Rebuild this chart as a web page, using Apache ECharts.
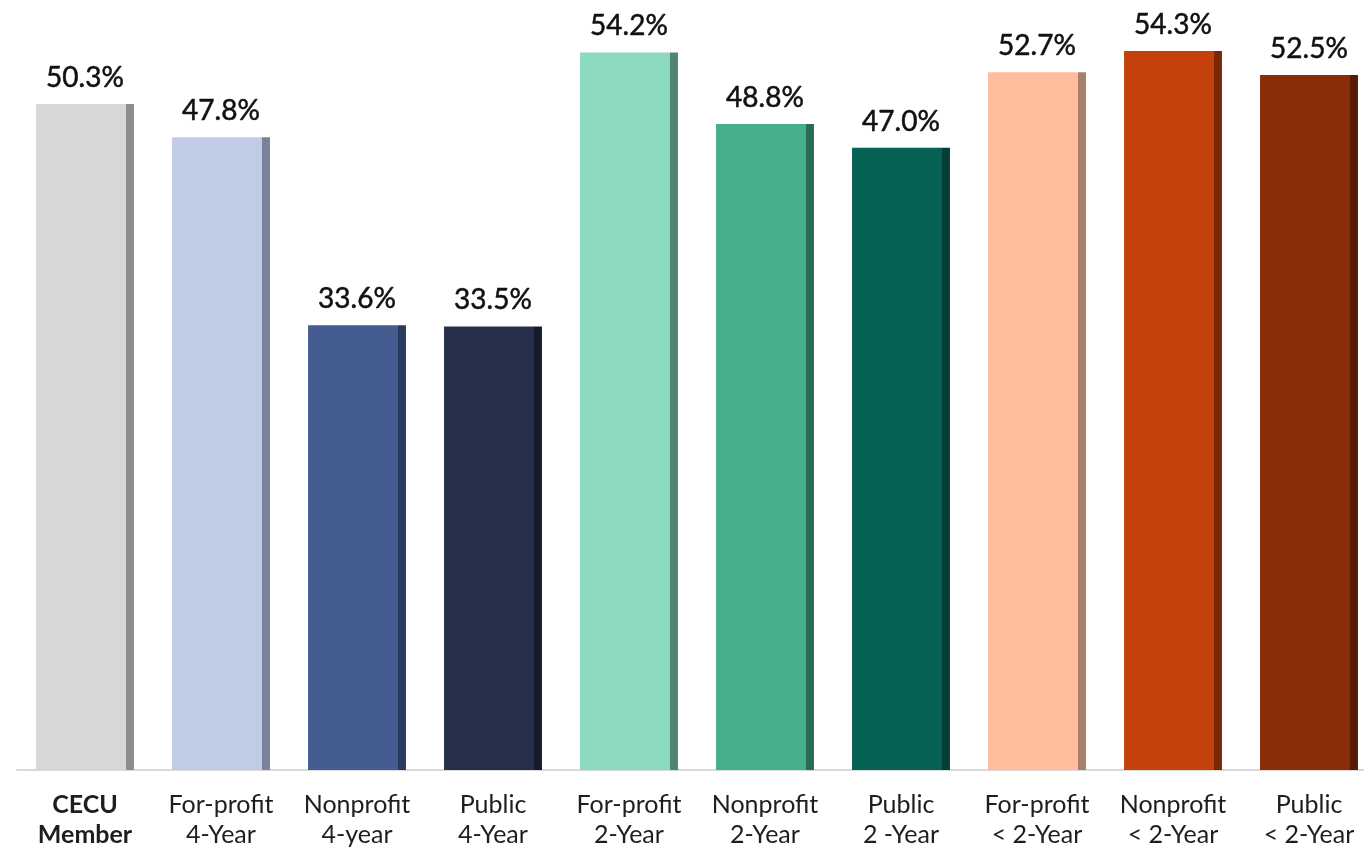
<!DOCTYPE html>
<html><head><meta charset="utf-8">
<script src="https://cdn.jsdelivr.net/npm/echarts@6/dist/echarts.min.js"></script>
<style>html,body{margin:0;padding:0;background:#fff;overflow:hidden}#c{width:1380px;height:850px}</style>
</head><body><div id="c"></div>
<script>
const categories = ["CECU\nMember","For-profit\n4-Year","Nonprofit\n4-year","Public\n4-Year","For-profit\n2-Year","Nonprofit\n2-Year","Public\n2 -Year","For-profit\n< 2-Year","Nonprofit\n< 2-Year","Public\n< 2-Year"];
const values = [50.3, 47.8, 33.6, 33.5, 54.2, 48.8, 47.0, 52.7, 54.3, 52.5];
const mainColors = ["#D9D6D6","#C0CCE6","#455C91","#263049","#8BD9BE","#46AE8A","#056153","#FFBD9D","#C4400C","#872D07"];
const edgeColors = ["#8C8C8C","#7A8299","#2C3A5E","#161C2C","#508570","#2A6A52","#033D33","#A8806A","#7A2806","#551B03"];

const chart = echarts.init(document.getElementById('c'));
chart.setOption({
  animation: false,
  grid: {left: 17, width: 1360, top: 41.8, bottom: 80, containLabel: false},
  xAxis: {
    type: 'category', data: categories,
    axisLine: {lineStyle: {color: '#D9D9D9', width: 2}},
    axisTick: {show: false},
    axisLabel: {
      interval: 0, margin: 20, fontFamily: 'Lato', fontSize: 25, color: '#1e1e1e', lineHeight: 30,
      formatter: function (v, i) { return i === 0 ? '{b|' + v.replace('\n', '}\n{b|') + '}' : v; },
      rich: {b: {fontFamily: 'Lato', fontSize: 25, fontWeight: 'bold', color: '#1e1e1e', lineHeight: 30}}
    }
  },
  yAxis: {type: 'value', min: 0, max: 55, show: false, splitLine: {show: false}},
  series: [{
    type: 'bar', barCategoryGap: '28%',
    data: values.map((v, i) => ({
      value: v,
      itemStyle: {
        color: new echarts.graphic.LinearGradient(0, 0, 1, 0, [
          {offset: 0, color: mainColors[i]},
          {offset: 0.918, color: mainColors[i]},
          {offset: 0.918, color: edgeColors[i]},
          {offset: 1, color: edgeColors[i]}
        ])
      }
    })),
    label: {
      show: true, position: 'top', distance: 12,
      fontFamily: 'Lato', fontSize: 28, fontWeight: 'normal', color: '#111',
      textBorderColor: '#111', textBorderWidth: 0.5,
      formatter: p => p.value.toFixed(1) + '%'
    }
  }]
});
</script></body></html>
